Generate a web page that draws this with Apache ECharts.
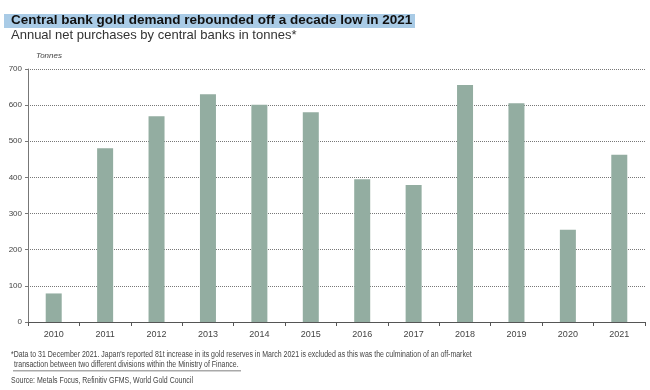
<!DOCTYPE html>
<html><head><meta charset="utf-8">
<script src="https://cdn.jsdelivr.net/npm/echarts@6/dist/echarts.min.js"></script>
<style>html,body{margin:0;padding:0;background:#fff}#c{width:650px;height:390px}</style>
</head><body><div id="c"></div>
<script>
const categories = ['2010','2011','2012','2013','2014','2015','2016','2017','2018','2019','2020','2021'];
const purchases = [79, 481, 569, 630, 601, 580, 395, 379, 656, 605, 255, 463];
const yTicks = [0, 100, 200, 300, 400, 500, 600, 700];

const chart = echarts.init(document.getElementById('c'), null, {renderer:'canvas'});
const font = 'Liberation Sans, Arial, sans-serif';
chart.setOption({
  animation:false,
  backgroundColor:'#fff',
  grid:{left:28, right:5, top:69, bottom:68, containLabel:false},
  xAxis:{
    type:'category', data:categories, boundaryGap:true,
    axisLine:{show:true, lineStyle:{color:'#555', width:1}},
    axisTick:{show:true, alignWithLabel:false, length:4, lineStyle:{color:'#555'}},
    axisLabel:{color:'#444', fontSize:9, fontFamily:font, margin:8}
  },
  yAxis:{
    type:'value', min:yTicks[0], max:yTicks[yTicks.length-1], interval:100,
    axisLine:{show:true, lineStyle:{color:'#777', width:1}},
    axisTick:{show:true, inside:false, length:3, lineStyle:{color:'#777'}},
    axisLabel:{color:'#444', fontSize:8, fontFamily:font, margin:6},
    splitLine:{show:true, lineStyle:{color:'#777', type:[1,1], width:1}}
  },
  series:[{
    type:'bar', data:purchases, barWidth:16,
    itemStyle:{color:'#93ada1'}
  }],
  graphic:[
    {type:'rect', shape:{x:4, y:14, width:411, height:14}, style:{fill:'#a9cbe6'}, silent:true},
    {type:'text', left:11, top:13, style:{text:'Central bank gold demand rebounded off a decade low in 2021', font:'bold 13.5px '+font, fill:'#111'}},
    {type:'text', left:11, top:29, style:{text:'Annual net purchases by central banks in tonnes*', font:'13px '+font, fill:'#333'}},
    {type:'text', left:36, top:52, style:{text:'Tonnes', font:'italic 8px '+font, fill:'#444'}},
    {type:'text', x:11, y:350, scaleX:0.82, style:{text:"*Data to 31 December 2021. Japan's reported 81t increase in its gold reserves in March 2021 is excluded as this was the culmination of an off-market", font:'8.5px '+font, fill:'#444'}},
    {type:'text', x:14, y:360, scaleX:0.82, style:{text:'transaction between two different divisions within the Ministry of Finance.', font:'8.5px '+font, fill:'#444'}},
    {type:'rect', shape:{x:13, y:370.5, width:228, height:0.8}, style:{fill:'#555'}, silent:true},
    {type:'text', x:11, y:376, scaleX:0.82, style:{text:'Source: Metals Focus, Refinitiv GFMS, World Gold Council', font:'8.5px '+font, fill:'#444'}}
  ]
});
</script></body></html>
